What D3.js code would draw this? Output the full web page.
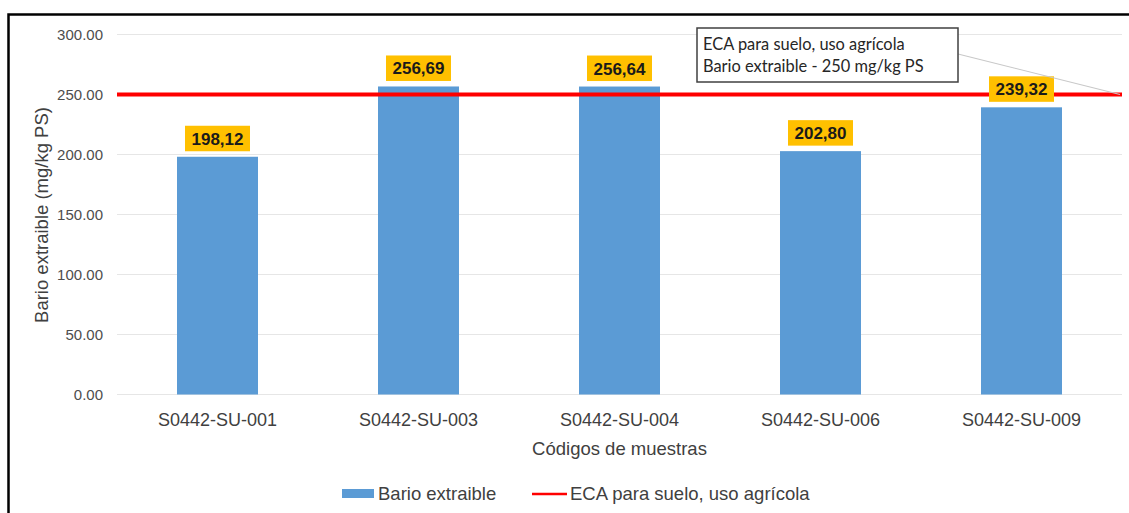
<!DOCTYPE html>
<html><head><meta charset="utf-8">
<script src="https://cdn.jsdelivr.net/npm/d3@7"></script>
<style>body{margin:0;background:#fff}svg{display:block}</style>
</head><body>
<svg id="c" width="1129" height="513"></svg>
<script>
const categories = ["S0442-SU-001","S0442-SU-003","S0442-SU-004","S0442-SU-006","S0442-SU-009"];
const values = [198.12, 256.69, 256.64, 202.80, 239.32];
const valueLabels = ["198,12","256,69","256,64","202,80","239,32"];
const limitValue = 250;
const yTicks = [0,50,100,150,200,250,300];
const seriesNames = ["Bario extraible","ECA para suelo, uso agrícola"];
const annotationLines = ["ECA para suelo, uso agrícola","Bario extraible - 250 mg/kg PS"];

const svg = d3.select("#c");
const font = "'Liberation Sans', Arial, sans-serif";
const x = d3.scaleBand().domain(categories).range([117,1122]).paddingInner(0.597).paddingOuter(0.2985);
const y = d3.scaleLinear().domain([0,300]).range([394.5,34.5]);

// frame
svg.append("rect").attr("x",8.5).attr("y",14.5).attr("width",1300).attr("height",700)
  .attr("fill","none").attr("stroke","#000").attr("stroke-width",2.5);

// grid
svg.append("g").selectAll("line").data(yTicks).join("line")
  .attr("x1",117).attr("x2",1122).attr("y1",d=>y(d)).attr("y2",d=>y(d))
  .attr("stroke","#e6e6e6").attr("stroke-width",1.2);

// y tick labels
const yAxis = d3.axisLeft(y).tickValues(yTicks).tickFormat(d3.format(".2f")).tickSize(0).tickPadding(0);
const ga = svg.append("g").attr("transform","translate(103,0)").call(yAxis);
ga.select(".domain").remove();
ga.selectAll("text").attr("font-family",font).attr("font-size",15).attr("fill","#4d4d4d");

// bars
svg.append("g").selectAll("rect").data(values).join("rect")
  .attr("x",(d,i)=>x(categories[i])).attr("width",x.bandwidth())
  .attr("y",d=>y(d)).attr("height",d=>y(0)-y(d)).attr("fill","#5B9BD5");

// limit line
svg.append("line").attr("x1",117).attr("x2",1122).attr("y1",y(limitValue)).attr("y2",y(limitValue))
  .attr("stroke","#FF0000").attr("stroke-width",4);

// value labels
const lg = svg.append("g");
values.forEach((v,i)=>{
  const cx = x(categories[i]) + x.bandwidth()/2;
  const by = y(v) - 5.5;
  lg.append("rect").attr("x",cx-32.5).attr("y",by-25.5).attr("width",65).attr("height",25.5).attr("fill","#FFC000");
  lg.append("text").attr("x",cx).attr("y",by-6.5).attr("text-anchor","middle")
    .attr("font-family",font).attr("font-weight","bold").attr("font-size",17).attr("fill","#1a1a1a")
    .text(valueLabels[i]);
});

// x labels
const xAxis = d3.axisBottom(x).tickSize(0).tickPadding(0);
const gx = svg.append("g").attr("transform","translate(0,413)").call(xAxis);
gx.select(".domain").remove();
gx.selectAll("text").attr("font-family",font).attr("font-size",18).attr("fill","#404040").attr("dy","0.71em");

// axis titles
svg.append("text").attr("x",619.5).attr("y",455).attr("text-anchor","middle")
  .attr("font-family",font).attr("font-size",18.5).attr("fill","#404040").text("Códigos de muestras");
svg.append("text").attr("transform","translate(48,215) rotate(-90)").attr("text-anchor","middle")
  .attr("font-family",font).attr("font-size",18.5).attr("fill","#404040").text("Bario extraible (mg/kg PS)");

// annotation
svg.append("line").attr("x1",958).attr("y1",54).attr("x2",1120).attr("y2",y(limitValue))
  .attr("stroke","#c8c8c8").attr("stroke-width",1.2);
svg.append("rect").attr("x",697).attr("y",28).attr("width",261).attr("height",54)
  .attr("fill","#fff").attr("stroke","#404040").attr("stroke-width",1.5);
annotationLines.forEach((t,i)=>{
  svg.append("text").attr("x",703).attr("y",50+i*22).attr("font-family","Lato, 'Open Sans', sans-serif")
    .attr("font-size",16.4).attr("fill","#262626").text(t);
});

// legend
svg.append("rect").attr("x",342).attr("y",489).attr("width",32).attr("height",9).attr("fill","#5B9BD5");
svg.append("text").attr("x",378).attr("y",499.5).attr("font-family",font).attr("font-size",18.5).attr("fill","#404040").text(seriesNames[0]);
svg.append("line").attr("x1",532).attr("x2",567).attr("y1",494).attr("y2",494).attr("stroke","#FF0000").attr("stroke-width",2.5);
svg.append("text").attr("x",570).attr("y",499.5).attr("font-family",font).attr("font-size",18.5).attr("fill","#404040").text(seriesNames[1]);
</script>
</body></html>
